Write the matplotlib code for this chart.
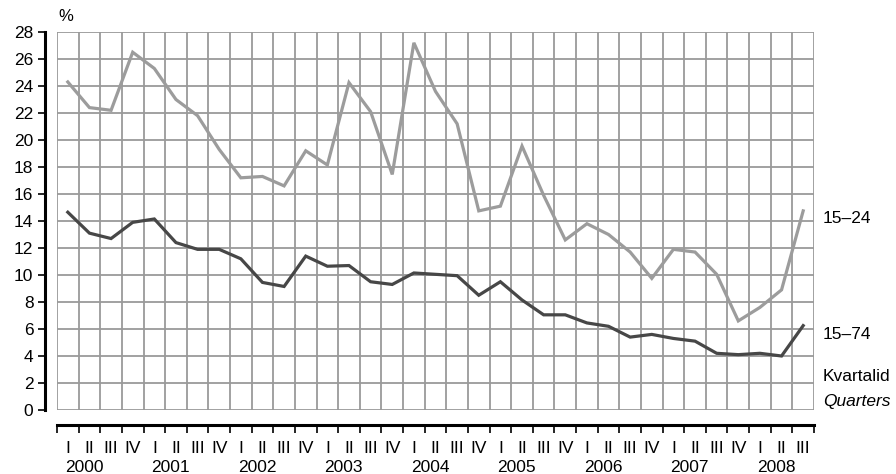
import matplotlib
matplotlib.use("Agg")
import matplotlib.pyplot as plt
import numpy as np

#########################################
# Data
#########################################

years = ["2000", "2001", "2002", "2003", "2004", "2005", "2006", "2007", "2008"]
quarter_names = ["I", "II", "III", "IV"]

# 2000 I ... 2008 III
age_15_24 = [24.3, 22.4, 22.2, 26.5, 25.3, 23.0, 21.8, 19.3,
             17.2, 17.3, 16.6, 19.2, 18.15, 24.25, 22.1, 17.45,
             27.2, 23.6, 21.2, 14.75, 15.1, 19.55, 15.9, 12.6,
             13.8, 13.0, 11.7, 9.75, 11.9, 11.7, 10.05, 6.6,
             7.6, 8.9, 14.75]
age_15_74 = [14.65, 13.1, 12.7, 13.9, 14.15, 12.4, 11.9, 11.9,
             11.2, 9.45, 9.15, 11.4, 10.65, 10.7, 9.5, 9.3,
             10.15, 10.05, 9.95, 8.5, 9.5, 8.15, 7.05, 7.05,
             6.45, 6.2, 5.4, 5.6, 5.3, 5.1, 4.2, 4.1,
             4.2, 4.0, 6.25]

#########################################
# Plot
#########################################

plt.rcParams['font.family'] = ['Liberation Sans', 'DejaVu Sans']

fig = plt.figure(figsize=(8.96, 4.74), dpi=100)
ax = fig.add_axes([57 / 896, 1 - 410 / 474, 757 / 896, 378 / 474])

n = len(age_15_24)
x = np.arange(n)

ax.plot(x, age_15_24, color="#9c9c9c", lw=2.3, solid_joinstyle="miter", zorder=3)
ax.plot(x, age_15_74, color="#474747", lw=2.3, solid_joinstyle="miter", zorder=3)

ax.set_xlim(-0.5, n - 0.5)
ax.set_ylim(0, 28)

# grid
ax.set_xticks(np.arange(n + 1) - 0.5)
ax.set_xticklabels([])
ax.set_yticks(np.arange(0, 29, 2))
ax.grid(True, color="#9a9a9a", lw=1.3)
ax.set_axisbelow(True)

for s in ["top", "right"]:
    ax.spines[s].set_visible(False)
ax.spines["left"].set_position(("outward", 9))
ax.spines["left"].set_linewidth(2.2)
ax.spines["bottom"].set_position(("outward", 11))
ax.spines["bottom"].set_linewidth(2.2)

ax.tick_params(axis="y", direction="out", length=5, width=1.2, labelsize=12.5, pad=3)
ax.tick_params(axis="x", direction="out", length=6, width=1.2)

# quarter / year labels
trans = ax.get_xaxis_transform()
for i in range(n):
    ax.text(i, -0.101, quarter_names[i % 4], transform=trans,
            ha="center", va="center", fontsize=12.5)
for k, yr in enumerate(years):
    ax.text(4 * k + 0.75, -0.153, yr, transform=trans,
            ha="center", va="center", fontsize=12.5)

# right-side labels
ax.text(1.012, 14.2, "15–24", transform=ax.get_yaxis_transform(),
        ha="left", va="center", fontsize=12.5)
ax.text(1.012, 5.6, "15–74", transform=ax.get_yaxis_transform(),
        ha="left", va="center", fontsize=12.5)
ax.text(1.012, 2.45, "Kvartalid", transform=ax.get_yaxis_transform(),
        ha="left", va="center", fontsize=12.5)
ax.text(1.012, 0.6, "Quarters", transform=ax.get_yaxis_transform(),
        ha="left", va="center", fontsize=12.5, style="italic")

ax.text(0.011, 1.04, "%", transform=ax.transAxes, ha="center", va="center", fontsize=12)

fig.savefig("out.png", dpi=100)
